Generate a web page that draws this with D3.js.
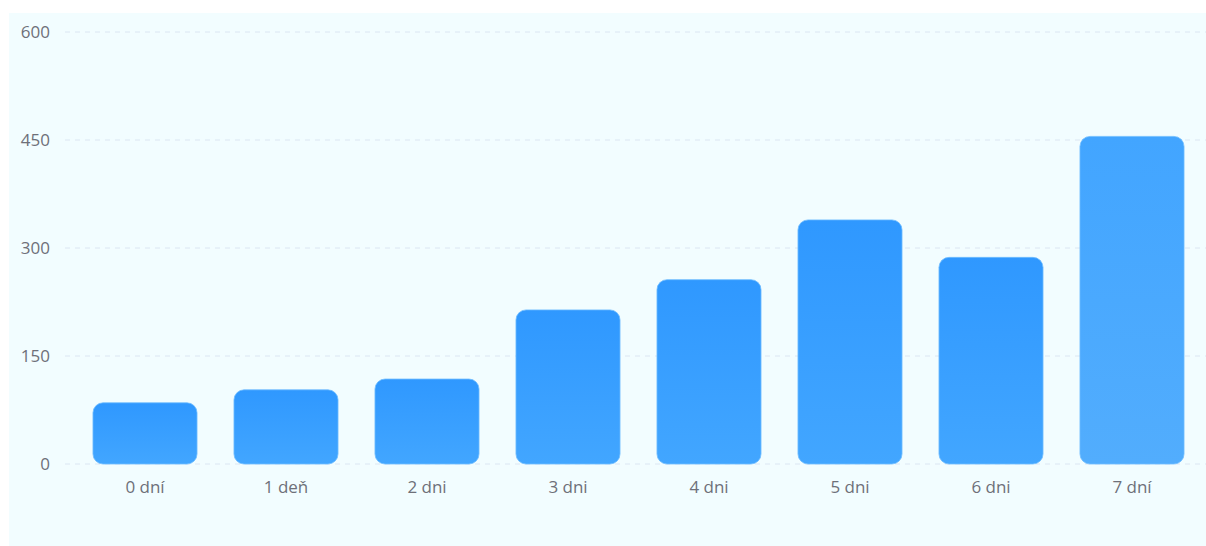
<!DOCTYPE html>
<html><head><meta charset="utf-8">
<script src="https://cdn.jsdelivr.net/npm/d3@7"></script>
<style>
html,body{margin:0;padding:0;background:#fff;}
svg{display:block;font-family:"Open Sans",sans-serif;}
</style></head>
<body><svg id="c" width="1206" height="546"></svg>
<script>
const categories = ["0 dní","1 deň","2 dni","3 dni","4 dni","5 dni","6 dni","7 dní"];
const values = [85, 103, 118, 214, 256, 339, 287, 455];
const yTicks = [0,150,300,450,600];

const W = 1206, H = 546;
const svg = d3.select("#c");
svg.append("rect").attr("x",9).attr("y",13).attr("width",W-9).attr("height",H-13).attr("fill","#f2fdff");

const x = d3.scaleBand().domain(categories).range([74.5, 1202.5]).paddingInner(0.262).paddingOuter(0.131);
const y = d3.scaleLinear().domain([0,600]).range([464,32]);

const defs = svg.append("defs");
const g = defs.append("linearGradient").attr("id","bg").attr("x1",0).attr("y1",0).attr("x2",0).attr("y2",1);
g.append("stop").attr("offset","0%").attr("stop-color","#2f98ff");
g.append("stop").attr("offset","100%").attr("stop-color","#42a6ff");
const g2 = defs.append("linearGradient").attr("id","bg2").attr("x1",0).attr("y1",0).attr("x2",0).attr("y2",1);
g2.append("stop").attr("offset","0%").attr("stop-color","#42a5ff");
g2.append("stop").attr("offset","100%").attr("stop-color","#52adfd");

// grid
svg.append("g").selectAll("line").data(yTicks).join("line")
  .attr("x1",65).attr("x2",W).attr("y1",d=>y(d)).attr("y2",d=>y(d))
  .attr("stroke","#dbe6f2").attr("stroke-dasharray","5,5").attr("stroke-width",1);

const yAxis = d3.axisLeft(y).tickValues(yTicks).tickSize(0).tickPadding(0);
svg.append("g").attr("transform","translate(50,0)").call(yAxis)
  .call(s=>s.select(".domain").remove())
  .call(s=>s.selectAll("text").attr("fill","#6e7079").attr("font-size","17px").attr("font-family","Open Sans, sans-serif"));

svg.append("g").selectAll("rect").data(values).join("rect")
  .attr("x",(d,i)=>x(categories[i]))
  .attr("width",x.bandwidth())
  .attr("y",d=>y(d))
  .attr("height",d=>y(0)-y(d))
  .attr("rx",10).attr("ry",10)
  .attr("fill",(d,i)=> i===7 ? "url(#bg2)" : "url(#bg)")
  .attr("stroke","#6fbcff").attr("stroke-width",0.8);

const xAxis = d3.axisBottom(x).tickSize(0).tickPadding(0);
svg.append("g").attr("transform","translate(0,481)").call(xAxis)
  .call(s=>s.select(".domain").remove())
  .call(s=>s.selectAll("text").attr("fill","#6e7079").attr("font-size","17px").attr("font-family","Open Sans, sans-serif"));
</script></body></html>
